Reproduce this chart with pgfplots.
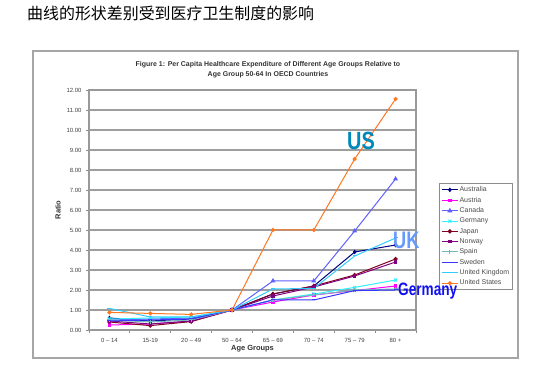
\documentclass[border=0pt]{standalone}
\usepackage{pgfplots}
\pgfplotsset{compat=1.18}
\usepackage{fontspec}
\setmainfont{Liberation Sans}
\newfontfamily\cjk{Noto Sans CJK SC}
\definecolor{cAus}{HTML}{000080}
\definecolor{cAut}{HTML}{FF00FF}
\definecolor{cCan}{HTML}{6060FF}
\definecolor{cGer}{HTML}{33F0FF}
\definecolor{cJap}{HTML}{800020}
\definecolor{cNor}{HTML}{800080}
\definecolor{cSpa}{HTML}{70B8B8}
\definecolor{cSwe}{HTML}{3838FF}
\definecolor{cUK}{HTML}{33CCFF}
\definecolor{cUS}{HTML}{FF7722}
\definecolor{cLabUS}{HTML}{0088BB}
\definecolor{cLabUK}{HTML}{6699FF}
\definecolor{cLabDE}{HTML}{1010F0}
\begin{document}
\begin{tikzpicture}
\path[use as bounding box] (0,0) rectangle (543bp,378bp);
\node[anchor=west, inner sep=0pt, font=\cjk\fontsize{16}{18}\selectfont] at (27bp,365bp) {曲线的形状差别受到医疗卫生制度的影响};
\draw[black!35, line width=1.8bp] (33bp,20bp) rectangle (518bp,327bp);
\node[align=center, inner sep=0pt, font=\bfseries\fontsize{7}{10}\selectfont, text=black!80] at (268bp,308bp) {Figure 1: Per Capita Healthcare Expenditure of Different Age Groups Relative to\\Age Group 50-64 In OECD Countries};
\begin{axis}[
  at={(89bp,48bp)}, anchor=south west, scale only axis,
  width=327bp, height=240bp,
  xmin=-0.5, xmax=7.5, ymin=0, ymax=12,
  xtick={0,...,7},
  xticklabels={0 -- 14, 15-19, 20 -- 49, 50 -- 64, 65 -- 69, 70 -- 74, 75 -- 79, 80 +},
  minor xtick={-0.5,0.5,...,7.5},
  ytick={0,1,...,12},
  major x tick style={draw=none},
  minor tick length=3bp, major tick length=3bp,
  tick align=outside,
  tick style={black!45, line width=0.8bp},
  xtick pos=bottom, ytick pos=left,
  ymajorgrids,
  major grid style={black!38, line width=1.3bp},
  axis line style={black!40, line width=1.3bp},
  /pgf/number format/assume math mode=true,
  yticklabel style={/pgf/number format/fixed, /pgf/number format/fixed zerofill, /pgf/number format/precision=2, xshift=-1bp},
  ticklabel style={font=\fontsize{6}{7}\selectfont, text=black!75},
  xticklabel style={yshift=-2bp},
  xlabel={Age Groups}, ylabel={Ratio},
  label style={font=\bfseries\fontsize{7.5}{8}\selectfont, text=black!80},
  xlabel style={at={(axis description cs:0.5,-0.079)}, anchor=center},
  ylabel style={at={(axis description cs:-0.095,0.5)}, anchor=center},
  every axis plot/.append style={line width=1bp, mark size=1.6bp},
  legend style={at={(1.0703,0.6125)}, anchor=north west, draw=black!45, line width=0.8bp,
    font=\fontsize{7}{7.5}\selectfont, text=black!70, row sep=1.5bp, inner sep=2bp,
    nodes={inner sep=1.2bp}},
  legend cell align=left,
  legend image code/.code={\draw[mark repeat=2, mark phase=2] plot coordinates {(0bp,0bp) (8bp,0bp) (16bp,0bp)};},
]
\addplot[color=cAus, mark=diamond*] coordinates {(0,0.60)(1,0.45)(2,0.55)(3,1)(4,1.80)(5,2.20)(6,3.90)(7,4.25)};
\addlegendentry{Australia}
\addplot[color=cAut, mark=square*, mark size=1.3bp] coordinates {(0,0.25)(1,0.30)(2,0.45)(3,1)(4,1.40)(5,1.75)(6,1.97)(7,2.20)};
\addlegendentry{Austria}
\addplot[color=cCan, mark=triangle*, mark size=2bp] coordinates {(0,0.50)(1,0.55)(2,0.60)(3,1)(4,2.45)(5,2.45)(6,4.95)(7,7.55)};
\addlegendentry{Canada}
\addplot[color=cGer, mark=x, mark size=2bp] coordinates {(0,0.55)(1,0.60)(2,0.65)(3,1)(4,1.50)(5,1.80)(6,2.13)(7,2.50)};
\addlegendentry{Germany}
\addplot[color=cJap, mark=*] coordinates {(0,0.40)(1,0.22)(2,0.42)(3,1)(4,1.80)(5,2.20)(6,2.75)(7,3.55)};
\addlegendentry{Japan}
\addplot[color=cNor, mark=square*, mark size=1.3bp] coordinates {(0,0.45)(1,0.30)(2,0.45)(3,1)(4,1.70)(5,2.15)(6,2.70)(7,3.40)};
\addlegendentry{Norway}
\addplot[color=cSpa, mark=+, mark size=2bp] coordinates {(0,0.50)(1,0.40)(2,0.50)(3,1)(4,1.50)(5,1.75)(6,2.00)(7,2.05)};
\addlegendentry{Spain}
\addplot[color=cSwe, mark=-, mark size=2bp] coordinates {(0,0.45)(1,0.50)(2,0.55)(3,1)(4,1.50)(5,1.50)(6,1.97)(7,2.00)};
\addlegendentry{Sweden}
\addplot[color=cUK, mark=-, mark size=2bp] coordinates {(0,1.08)(1,0.65)(2,0.65)(3,1)(4,2.05)(5,2.08)(6,3.70)(7,4.60)};
\addlegendentry{United Kingdom}
\addplot[color=cUS, mark=*] coordinates {(0,0.88)(1,0.83)(2,0.78)(3,1)(4,5.00)(5,5.00)(6,8.55)(7,11.55)};
\addlegendentry{United States}
\end{axis}
\node[anchor=base west, inner sep=0pt, xscale=0.8, text=cLabUS, font=\bfseries\fontsize{25}{26}\selectfont] at (347bp,228bp) {US};
\node[anchor=base west, inner sep=0pt, xscale=0.76, text=cLabUK, font=\bfseries\fontsize{24}{25}\selectfont] at (393bp,129bp) {UK};
\node[anchor=base west, inner sep=0pt, xscale=0.76, text=cLabDE, font=\bfseries\fontsize{18}{19}\selectfont] at (398bp,82bp) {Germany};
\end{tikzpicture}
\end{document}
